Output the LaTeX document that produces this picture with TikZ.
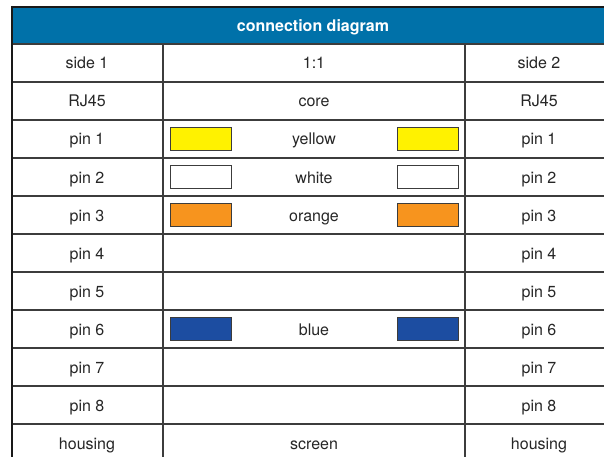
\documentclass[tikz,border=0pt]{standalone}
\usepackage{fontspec}
\setmainfont{TeX Gyre Heros}
\usepackage{tikz}
\definecolor{headerblue}{RGB}{0,113,169}
\definecolor{coreyellow}{RGB}{255,242,0}
\definecolor{coreorange}{RGB}{247,148,30}
\definecolor{coreblue}{RGB}{28,77,161}
\definecolor{gridgray}{RGB}{60,60,60}

\begin{document}
\begin{tikzpicture}[x=1pt, y=-1pt,
  cell/.style={font=\fontsize{16}{18}\selectfont, text=black!85, inner sep=0pt, text height=12pt, text depth=0pt},
  swatch/.style={draw=gridgray, line width=1pt, minimum width=61pt, minimum height=23pt, inner sep=0pt}]
\useasboundingbox (0,0) rectangle (604,457);
\clip (0,0) rectangle (604,457);
% header bar
\fill[headerblue] (12,7) rectangle (630,44);
\draw[line width=2pt, black!90] (11,7) -- (630,7);
\node[cell, font=\bfseries\fontsize{16}{18}\selectfont, text=white] (title) at (313,25.5) {connection diagram};
% grid
\foreach \k in {0,...,10}
  \draw[gridgray, line width=1.3pt] (12,44+38*\k) -- (630,44+38*\k);
\draw[black!90, line width=2pt] (12,6) -- (12,470);
\draw[gridgray, line width=1.3pt] (163,44) -- (163,470);
\draw[gridgray, line width=1.3pt] (465,44) -- (465,470);
% head rows
\node[cell] (side1) at (87,63) {side 1};
\node[cell] (ratio) at (314,63) {1:1};
\node[cell] (side2) at (539,63) {side 2};
\node[cell] (plug1) at (87,101) {RJ45};
\node[cell] (core) at (314,101) {core};
\node[cell] (plug2) at (539,101) {RJ45};
% pins
\foreach \i in {1,...,8} {
  \node[cell] (left\i) at (87,101+38*\i) {pin \i};
  \node[cell] (right\i) at (539,101+38*\i) {pin \i};
}
% wire colours
\foreach \i/\c/\name in {1/coreyellow/yellow, 2/white/white, 3/coreorange/orange, 6/coreblue/blue} {
  \node[swatch, fill=\c] (swl\i) at (200.5,101+38*\i) {};
  \node[swatch, fill=\c] (swr\i) at (427.5,101+38*\i) {};
  \node[cell] (wire\i) at (314,101+38*\i) {\name};
}
% shield
\node[cell] (house1) at (87,443) {housing};
\node[cell] (screen) at (314,443) {screen};
\node[cell] (house2) at (539,443) {housing};
\end{tikzpicture}
\end{document}
